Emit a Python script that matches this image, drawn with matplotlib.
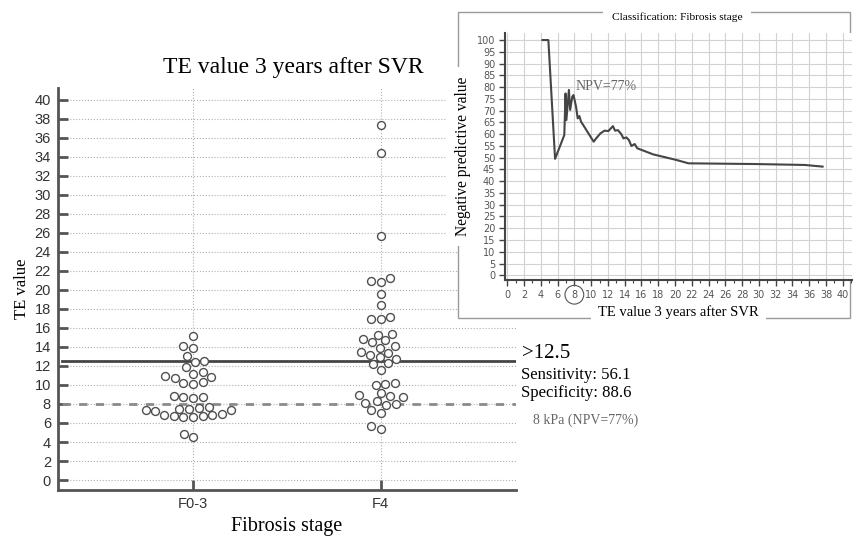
import matplotlib
matplotlib.use('Agg')
import matplotlib.pyplot as plt
from matplotlib.patches import Rectangle
import seaborn as sns
import pandas as pd

# Main dot plot data
stages = ['F0-3', 'F4']
te_f03 = [15.2, 14.1, 13.9, 13.0, 12.5, 12.4, 11.9, 11.4, 11.2, 10.9, 10.8, 10.7, 10.3, 10.2, 10.1,
          8.8, 8.7, 8.7, 8.6,
          7.7, 7.6, 7.5, 7.5, 7.4, 7.4, 7.3,
          6.9, 6.8, 6.8, 6.7, 6.7, 6.6, 6.6,
          4.8, 4.5]
te_f4 = [37.3, 34.4, 25.7,
         21.2, 20.9, 20.8,
         19.6, 18.4,
         17.2, 16.9, 16.9,
         15.4, 15.3, 14.8, 14.7, 14.5, 14.1, 13.9, 13.5, 13.4, 13.2, 12.9, 12.7,
         12.3, 12.2, 11.6,
         10.2, 10.1, 10.0,
         9.2, 8.9, 8.8, 8.7,
         8.3, 8.1, 8.0, 7.9,
         7.4, 7.1,
         5.7, 5.4]
cutoff = 12.5
npv_cutoff = 8
y_ticks = list(range(0, 41, 2))

# Inset NPV curve
npv_te = [4.2, 4.9, 5.7, 6.8, 6.95, 7.05, 7.35, 7.5, 7.75, 7.9, 8.2, 8.4, 8.6, 8.8, 9.3,
          10.3, 10.6, 11.1, 11.6, 12.05, 12.6, 12.85, 13.2, 13.6, 13.85, 14.2, 14.5, 14.8,
          15.2, 15.5, 17.4, 20.2, 21.6, 29.5, 35.5, 37.6]
npv_value = [100, 100, 49.5, 59.6, 77.3, 66, 78.8, 70.3, 75.9, 76.6, 71.7, 66.7, 67.7, 65.3, 62.5,
             56.8, 58.2, 60.3, 61.5, 61.3, 63.4, 61.5, 61.7, 60.0, 58.2, 58.6, 57.5, 55.0,
             55.8, 54.0, 51.4, 49.0, 47.6, 47.3, 46.9, 46.2]
inset_xticks = list(range(0, 41, 2))
inset_yticks = list(range(0, 101, 5))

serif = 'Liberation Serif'
sans = 'Liberation Sans'

fig = plt.figure(figsize=(8.64, 5.37), dpi=100)
ax = fig.add_axes([0.067, 0.0875, 0.53, 0.749])

df = pd.DataFrame({'stage': [stages[0]] * len(te_f03) + [stages[1]] * len(te_f4),
                   'te': te_f03 + te_f4})
sns.swarmplot(data=df, x='stage', y='te', order=stages, ax=ax, color='white',
              edgecolor='#505050', linewidth=1, size=5.7, zorder=4)

ax.axhline(cutoff, xmin=0.01, color='#454545', lw=2, zorder=3)
ax.axhline(npv_cutoff, xmin=0.01, color='#8a8a8a', lw=2, ls=(0, (3, 3)), zorder=3)

ax.set_xlim(-0.72, 1.72)
ax.set_ylim(-1.05, 41.26)
ax.set_yticks(y_ticks)
ax.grid(True, ls=':', color='#b0b0b0', lw=0.8)
ax.set_axisbelow(True)
for s in ['top', 'right']:
    ax.spines[s].set_visible(False)
for s in ['left', 'bottom']:
    ax.spines[s].set_color('#555555')
    ax.spines[s].set_linewidth(2)
ax.tick_params(direction='in', length=7, width=2, color='#555555', labelcolor='#333333',
               labelsize=10.5, pad=5)
for lbl in ax.get_xticklabels() + ax.get_yticklabels():
    lbl.set_family(sans)

ax.set_xlabel('Fibrosis stage', family=serif, fontsize=14.5, labelpad=4)
ax.set_ylabel('TE value', family=serif, fontsize=12, labelpad=3)
fig.text(0.34, 1 - 68 / 537, 'TE value 3 years after SVR', family=serif, fontsize=17,
         ha='center', va='center')

# annotations on the right
yt = ax.get_yaxis_transform()
ax.text(1.013, 13.3, '>12.5', transform=yt, family=serif, fontsize=15, va='center')
ax.text(1.011, 11.05, 'Sensitivity: 56.1', transform=yt, family=serif, fontsize=12, va='center')
ax.text(1.011, 9.15, 'Specificity: 88.6', transform=yt, family=serif, fontsize=12, va='center')
ax.text(1.037, 6.3, '8 kPa (NPV=77%)', transform=yt, family=serif, fontsize=10,
        color='#666666', va='center')

# inset frame
frame = Rectangle((458 / 864, 1 - 318 / 537), (850 - 458) / 864, (318 - 12) / 537,
                  transform=fig.transFigure, fc='white', ec='#9a9a9a', lw=1, zorder=2)
fig.add_artist(frame)
fig.text(677 / 864, 1 - 17 / 537, 'Classification: Fibrosis stage', family=serif, fontsize=8.2,
         ha='center', va='center', zorder=4,
         bbox=dict(boxstyle='square,pad=0.8', fc='white', ec='none'))

ax2 = fig.add_axes([505 / 864, 1 - 280 / 537, (851.7 - 505) / 864, (280 - 33) / 537])
ax2.set_zorder(3)
ax2.plot(npv_te, npv_value, color='#454545', lw=1.5)
ax2.set_xlim(-0.27, 41.07)
ax2.set_ylim(-2, 103)
ax2.set_xticks(inset_xticks, labels=[str(t) for t in inset_xticks])
ax2.set_yticks(inset_yticks, labels=[str(t) for t in inset_yticks])
ax2.set_xticks(range(0, 42), minor=True)
ax2.grid(True, color='#d2d2d2', lw=0.8)
ax2.set_axisbelow(True)
for s in ['top', 'right']:
    ax2.spines[s].set_visible(False)
for s in ['left', 'bottom']:
    ax2.spines[s].set_color('#444444')
    ax2.spines[s].set_linewidth(1.5)
ax2.tick_params(length=4, width=1, color='#444444', labelcolor='#555555', labelsize=7, pad=3)
ax2.tick_params(which='minor', length=2.5, width=0.8, color='#444444')
for lbl in ax2.get_xticklabels():
    if lbl.get_text() == '8':
        lbl.set_bbox(dict(boxstyle='circle,pad=0.45', fc='none', ec='#555555', lw=0.8))
ax2.text(8.1, 80.4, 'NPV=77%', family=serif, fontsize=10, color='#666666', va='center')
ax2.set_xlabel('TE value 3 years after SVR', family=serif, fontsize=10.5, labelpad=4,
               bbox=dict(boxstyle='square,pad=0.5', fc='white', ec='none'))
ax2.set_ylabel('Negative predictive value', family=serif, fontsize=11.2, labelpad=4,
               bbox=dict(boxstyle='square,pad=0.6', fc='white', ec='none'))

fig.savefig('out.png', dpi=100)
